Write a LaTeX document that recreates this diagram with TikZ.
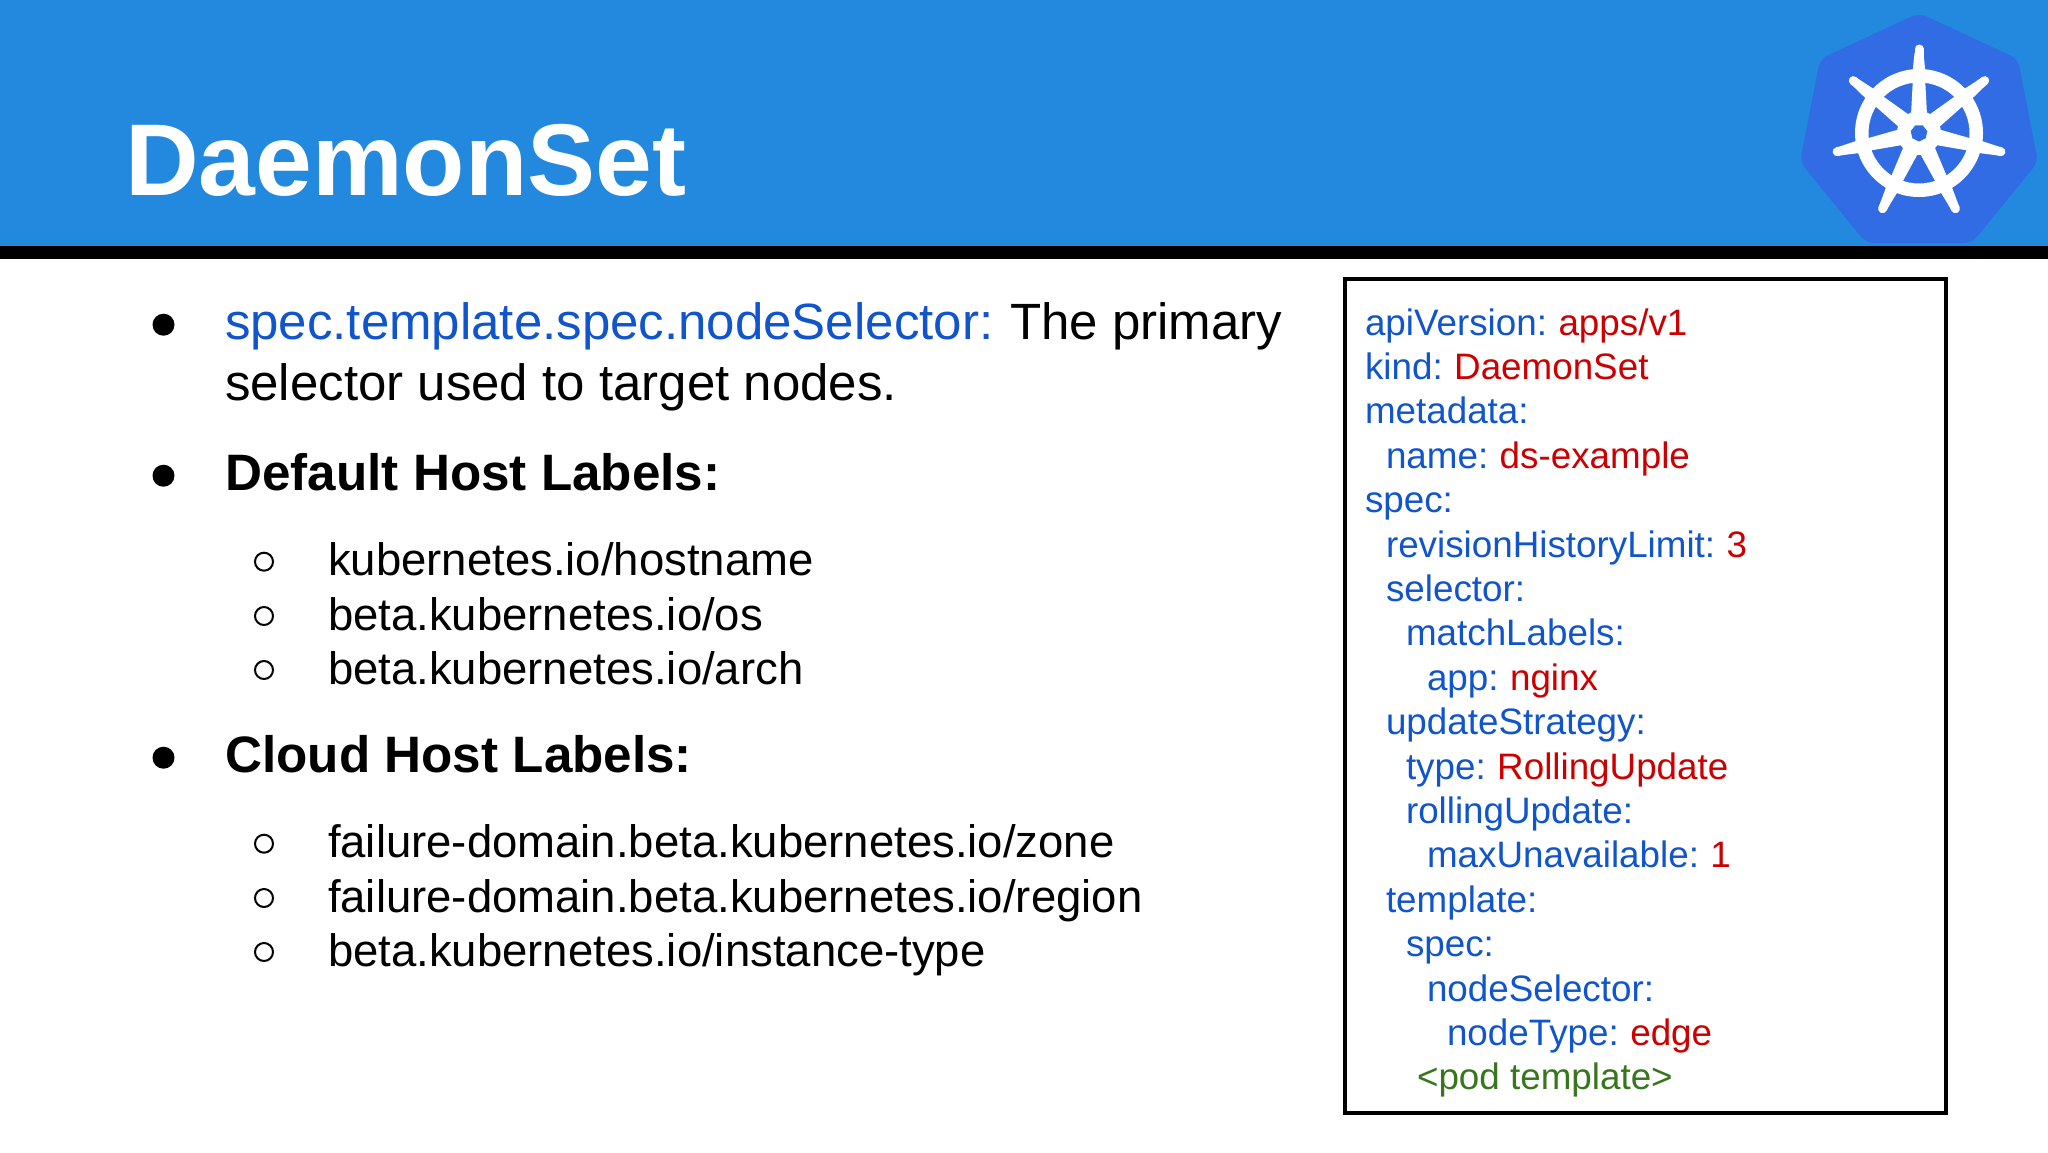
\documentclass[tikz,border=0pt]{standalone}
\usepackage{fontspec}
\setmainfont{Liberation Sans}
\definecolor{hdr}{HTML}{2289DF}
\definecolor{k8s}{HTML}{326CE5}
\definecolor{ykey}{HTML}{1155CC}
\definecolor{yval}{HTML}{CC0000}
\definecolor{ygrn}{HTML}{38761D}
\newcommand{\K}[1]{\textcolor{ykey}{#1}}
\newcommand{\V}[1]{\kern-2.2pt\textcolor{yval}{#1}}
\begin{document}
\begin{tikzpicture}[x=1pt,y=-1pt,
  txt/.style={inner sep=0pt,outer sep=0pt,anchor=base west,text=black},
  body/.style={txt,font=\fontsize{51}{60}\selectfont},
  head/.style={txt,font=\fontsize{51.2}{60}\selectfont\bfseries},
  sub/.style={txt,font=\fontsize{45.5}{56}\selectfont},
  yaml/.style={txt,font=\fontsize{36.8}{44}\selectfont},
  bulletA/.style={circle,fill=black,inner sep=0pt,minimum size=22pt},
  bulletB/.style={circle,draw=black,line width=2pt,fill=none,inner sep=0pt,minimum size=18pt}]
\useasboundingbox (0,0) rectangle (2048,1152);
\fill[white] (0,0) rectangle (2048,1152);
\fill[hdr] (0,0) rectangle (2048,246);
\fill[black] (0,246) rectangle (2048,259);
% logo
\fill[k8s,rounded corners=8pt] (1919,13) -- (2018,59) -- (2038,162) -- (1972,243) -- (1866,243) -- (1800,162) -- (1820,59) -- cycle;
\begin{scope}[shift={(1919,133)}]
\fill[white,even odd rule] (0,0) circle (64) (0,0) circle (50.5);
\foreach \a in {0,1,...,6}{
 \begin{scope}[rotate=\a*360/7]
  \fill[white] (-8,-18) -- (-5.8,-60) -- (5.8,-60) -- (8,-18) -- cycle;
  \fill[white] (-6.5,-60) -- (-4.5,-80) -- (4.5,-80) -- (6.5,-60) -- cycle;
  \draw[white,line width=9pt,line cap=round] (0,-78) -- (0,-84);
 \end{scope}}
\fill[white] (0,0) circle (22);
\fill[k8s] (90:8.5) \foreach \a in {1,...,6}{ -- ({90+\a*360/7}:8.5)} -- cycle;
\end{scope}
\node[txt,font=\fontsize{102}{120}\selectfont\bfseries,text=white] (title) at (125,195) {DaemonSet};
% left text
\node[bulletA] (b1) at (163.5,324.7) {};
\node[body] (t1) at (225,339.5) {\textcolor{ykey}{spec.template.spec.nodeSelector:}\kern-2pt{} The primary};
\node[body] (t2) at (225,400.5) {selector used to target nodes.};
\node[bulletA] (b2) at (163.5,475.7) {};
\node[head] (t3) at (225.5,490.5) {Default Host Labels:};
\node[bulletB] (s1) at (264,561.7) {};
\node[sub] (t4) at (328,575) {kubernetes.io/hostname};
\node[bulletB] (s2) at (264,616) {};
\node[sub] (t5) at (328,630) {beta.kubernetes.io/os};
\node[bulletB] (s3) at (264,670) {};
\node[sub] (t6) at (328,684.5) {beta.kubernetes.io/arch};
\node[bulletA] (b3) at (163.5,757.7) {};
\node[head] (t7) at (225.5,772.5) {Cloud Host Labels:};
\node[bulletB] (s4) at (264,843.7) {};
\node[sub] (t8) at (328,857) {failure-domain.beta.kubernetes.io/zone};
\node[bulletB] (s5) at (264,898) {};
\node[sub] (t9) at (328,912) {failure-domain.beta.kubernetes.io/region};
\node[bulletB] (s6) at (264,952) {};
\node[sub] (t10) at (328,966.5) {beta.kubernetes.io/instance-type};
% yaml box
\draw[black,line width=4pt] (1344.5,279) rectangle (1945.5,1112.5);
\node[yaml] (y1) at (1365,335) {\K{apiVersion:} \V{apps/v1}};
\node[yaml] (y2) at (1365,379.4) {\K{kind:} \V{DaemonSet}};
\node[yaml] (y3) at (1365,423.8) {\K{metadata:}};
\node[yaml] (y4) at (1386,468.2) {\K{name:} \V{ds-example}};
\node[yaml] (y5) at (1365,512.6) {\K{spec:}};
\node[yaml] (y6) at (1386,557) {\K{revisionHistoryLimit:} \V{3}};
\node[yaml] (y7) at (1386,601.4) {\K{selector:}};
\node[yaml] (y8) at (1406,645.8) {\K{matchLabels:}};
\node[yaml] (y9) at (1427,690.2) {\K{app:} \V{nginx}};
\node[yaml] (y10) at (1386,734.6) {\K{updateStrategy:}};
\node[yaml] (y11) at (1406,779) {\K{type:} \V{RollingUpdate}};
\node[yaml] (y12) at (1406,823.4) {\K{rollingUpdate:}};
\node[yaml] (y13) at (1427,867.8) {\K{maxUnavailable:} \V{1}};
\node[yaml] (y14) at (1386,912.2) {\K{template:}};
\node[yaml] (y15) at (1406,956.6) {\K{spec:}};
\node[yaml] (y16) at (1427,1001) {\K{nodeSelector:}};
\node[yaml] (y17) at (1447,1045.4) {\K{nodeType:} \V{edge}};
\node[yaml] (y18) at (1417,1089.8) {\textcolor{ygrn}{<pod template>}};
\end{tikzpicture}
\end{document}
